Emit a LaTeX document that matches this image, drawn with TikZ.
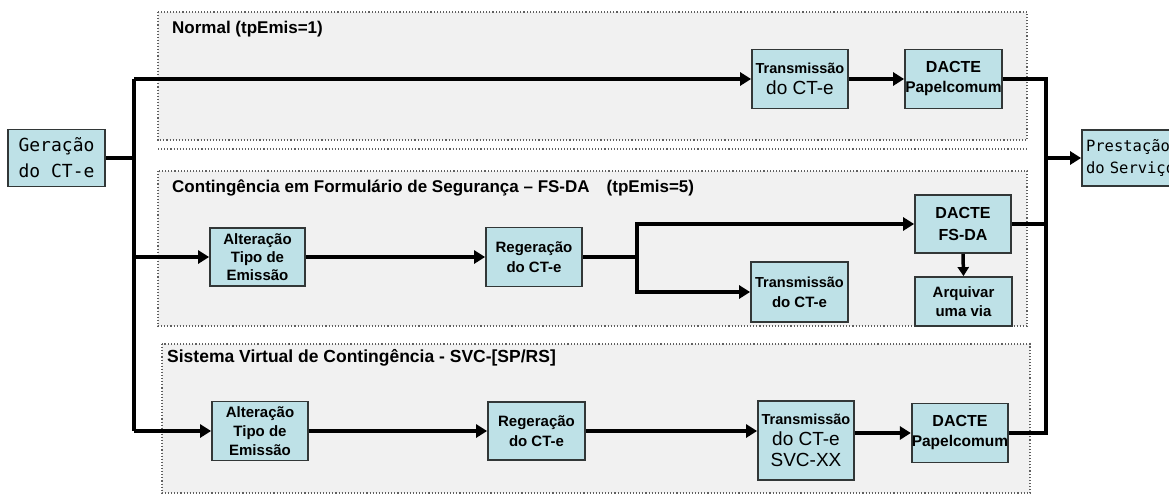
\documentclass[tikz,border=0pt]{standalone}
\usepackage{fontspec}
\setmainfont{Liberation Sans}
\newfontfamily\monof{DejaVu Sans Mono}
\usetikzlibrary{arrows.meta}
\definecolor{boxfill}{RGB}{190,225,231}
\definecolor{panelfill}{RGB}{241,241,241}
\definecolor{panelline}{RGB}{95,95,95}
\definecolor{boxline}{RGB}{50,55,55}
\newcommand\fSm{\bfseries\fontsize{14.5}{16}\selectfont}
\newcommand\fMd{\bfseries\fontsize{15}{17}\selectfont}
\newcommand\fPc{\bfseries\fontsize{15.5}{17}\selectfont}
\newcommand\fBg{\bfseries\fontsize{16}{19}\selectfont}
\newcommand\fLg{\mdseries\fontsize{19}{21}\selectfont}
\begin{document}
\begin{tikzpicture}[x=1pt,y=-1pt,
  box/.style={draw=boxline, line width=1.8pt, fill=boxfill, align=center, inner sep=0pt,
              minimum width=96pt, minimum height=59pt},
  ls/.style={font=\fontsize{10}{#1}\selectfont},
  panel/.style={draw=panelline, fill=panelfill, dotted, line width=1.1pt},
  conn/.style={line width=3.5pt, line join=miter},
  arr/.style={conn, -{Triangle[length=11pt,width=13pt]}},
  ttl/.style={anchor=west, inner sep=0pt, font=\bfseries\fontsize{17}{19}\selectfont}]
\useasboundingbox (0,0) rectangle (1169,498);
\clip (0,0) rectangle (1169,498);
\fill[white] (0,0) rectangle (1169,498);

% panels
\draw[panel] (158,12) rectangle (1027,140);
\draw[panelline, dotted, line width=1.1pt] (158,149) -- (1027,149);
\draw[panel] (158,171) rectangle (1027,326);
\draw[panel] (162,344) rectangle (1030,493);

% titles
\node[ttl] (tN) at (172,29) {Normal (tpEmis=1)};
\node[ttl] (tF) at (172,188) {Contingência em Formulário de Segurança – FS-DA\hspace{1em}(tpEmis=5)};
\node[ttl, font=\bfseries\fontsize{17.5}{19}\selectfont] (tS) at (167,358) {Sistema Virtual de Contingência - SVC-[SP/RS]};

% outer nodes
\node[box, minimum width=97pt, minimum height=57pt, font=\monof\fontsize{18}{26}\selectfont] (gen) at (56.5,158) {Geração\\do CT-e};
\node[box, minimum width=108pt, minimum height=56pt, text width=100pt, align=left, font=\monof\fontsize{15.5}{22}\selectfont] (pre) at (1136,158) {Prestação\\do Serviço};

% normal
\node[box, ls=21] (ntr) at (800,79) {{\fSm Transmissão}\\{\fLg do CT-e}};
\node[box, ls=20, minimum width=97pt] (nda) at (953.5,79) {{\fBg DACTE}\\{\fPc Papelcomum}};

% FS-DA
\node[box, ls=18, minimum width=95pt, minimum height=58pt] (falt) at (257.5,257) {{\fMd Alteração}\\{\fMd Tipo de}\\{\fMd Emissão}};
\node[box, ls=20] (freg) at (534,257) {{\fMd Regeração}\\{\fMd do CT-e}};
\node[box, ls=22, minimum height=58pt] (fda) at (963,224) {{\fBg DACTE}\\{\fBg FS-DA}};
\node[box, ls=20, minimum width=97pt, minimum height=60pt] (ftr) at (799.5,292) {{\fSm Transmissão}\\{\fMd do CT-e}};
\node[box, ls=19, minimum width=97pt, minimum height=49pt] (farq) at (963.5,301.5) {{\fMd Arquivar}\\{\fMd uma via}};

% SVC
\node[box, ls=19] (salt) at (260,431) {{\fMd Alteração}\\{\fMd Tipo de}\\{\fMd Emissão}};
\node[box, ls=20, minimum width=97pt, minimum height=58pt] (sreg) at (536.5,431) {{\fMd Regeração}\\{\fMd do CT-e}};
\node[box, ls=21, minimum height=79pt] (str) at (806,440.5) {{\fSm Transmissão}\\{\fLg do CT-e}\\{\fLg SVC-XX}};
\node[box, ls=20] (sda) at (960,433) {{\fBg DACTE}\\{\fPc Papelcomum}};

% junctions
\coordinate (jtop) at (134,79);
\coordinate (jfs) at (134,257);
\coordinate (jsvc) at (134,431);
\coordinate (rtop) at (1046,79);
\coordinate (rpre) at (1046,158);
\coordinate (rsvc) at (1046,433);
\coordinate (fsj) at (637,257);

% left trunk
\draw[conn] (jtop) -- (jsvc);
\draw[conn] (gen.east) -- (gen.east -| jtop);
\draw[arr] (jtop) -- (ntr.west);
\draw[arr] (jfs) -- (falt.west);
\draw[arr] (jsvc) -- (salt.west);

% normal
\draw[arr] (ntr.east) -- (nda.west);

% FS-DA
\draw[arr] (falt.east) -- (freg.west);
\draw[conn] (freg.east) -- (fsj);
\draw[arr] (fsj) |- (fda.west);
\draw[arr] (fsj) |- (ftr.west);
\draw[arr, -{Triangle[length=9pt,width=11pt]}] (fda.south) -- (farq.north);

% SVC
\draw[arr] (salt.east) -- (sreg.west);
\draw[arr] (sreg.east) -- (sreg.east -| str.west);
\draw[arr] (str.east |- sda.west) -- (sda.west);

% right trunk
\draw[conn] (nda.east) -- (rtop) -- (rsvc) -- (sda.east);
\draw[conn] (fda.east) -- (fda.east -| rtop);
\draw[arr] (rpre) -- (pre.west);
\end{tikzpicture}
\end{document}
